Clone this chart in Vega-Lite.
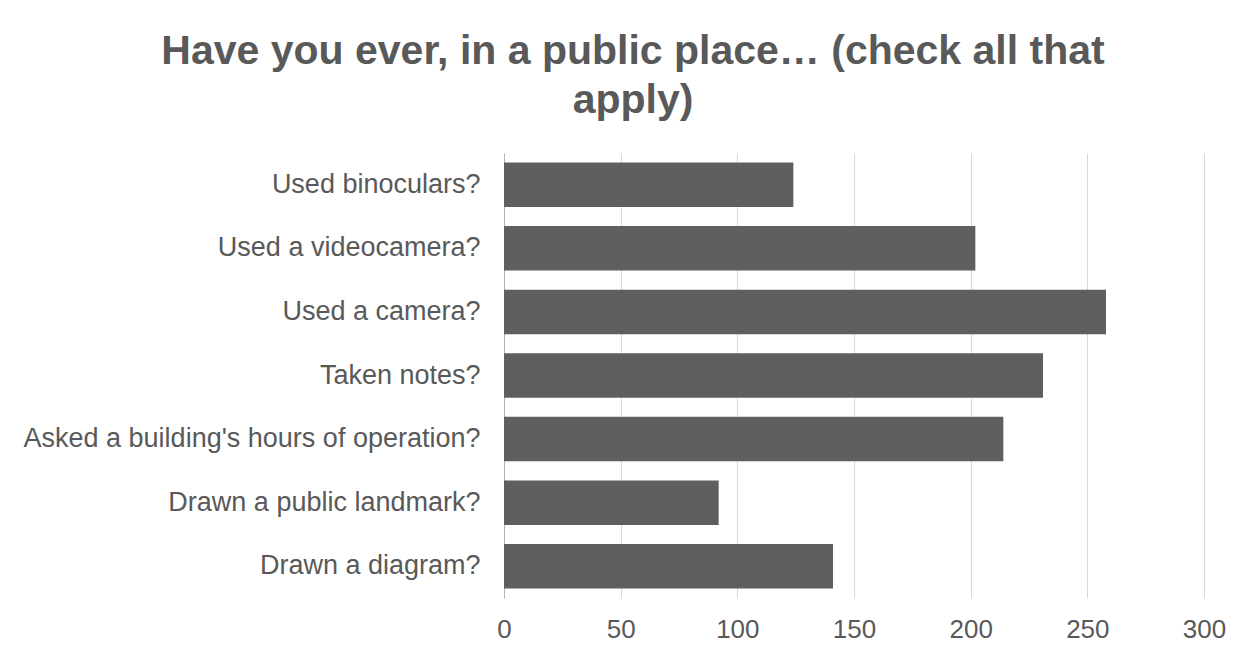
{
  "$schema": "https://vega.github.io/schema/vega-lite/v6.json",
  "autosize": "none",
  "width": 700,
  "height": 445,
  "padding": {"left": 504, "top": 153, "right": 48, "bottom": 56},
  "background": "white",
  "title": {
    "text": ["Have you ever, in a public place… (check all that", "apply)"],
    "font": "Liberation Sans",
    "fontSize": 41,
    "fontWeight": "bold",
    "color": "#595959",
    "lineHeight": 49,
    "anchor": "middle",
    "frame": "group",
    "dx": -221,
    "offset": 31
  },
  "data": {
    "values": [
      {"question": "Used binoculars?", "count": 124},
      {"question": "Used a videocamera?", "count": 202},
      {"question": "Used a camera?", "count": 258},
      {"question": "Taken notes?", "count": 231},
      {"question": "Asked a building's hours of operation?", "count": 214},
      {"question": "Drawn a public landmark?", "count": 92},
      {"question": "Drawn a diagram?", "count": 141}
    ]
  },
  "mark": {"type": "bar", "color": "#5f5f5f"},
  "encoding": {
    "y": {
      "field": "question",
      "type": "nominal",
      "sort": null,
      "title": null,
      "scale": {"paddingInner": 0.3, "paddingOuter": 0.15},
      "axis": {
        "domain": true,
        "domainColor": "#b3b3b3",
        "domainWidth": 1,
        "ticks": false,
        "grid": false,
        "labelFont": "Liberation Sans",
        "labelFontSize": 27,
        "labelColor": "#595959",
        "labelPadding": 24,
        "labelLimit": 600
      }
    },
    "x": {
      "field": "count",
      "type": "quantitative",
      "title": null,
      "scale": {"domain": [0, 300], "nice": false},
      "axis": {
        "values": [0, 50, 100, 150, 200, 250, 300],
        "domain": false,
        "ticks": false,
        "grid": true,
        "gridColor": "#d9d9d9",
        "gridWidth": 1,
        "labelFont": "Liberation Sans",
        "labelFontSize": 26,
        "labelColor": "#595959",
        "labelPadding": 18,
        "labelFlush": false
      }
    }
  },
  "config": {"view": {"stroke": null}}
}
